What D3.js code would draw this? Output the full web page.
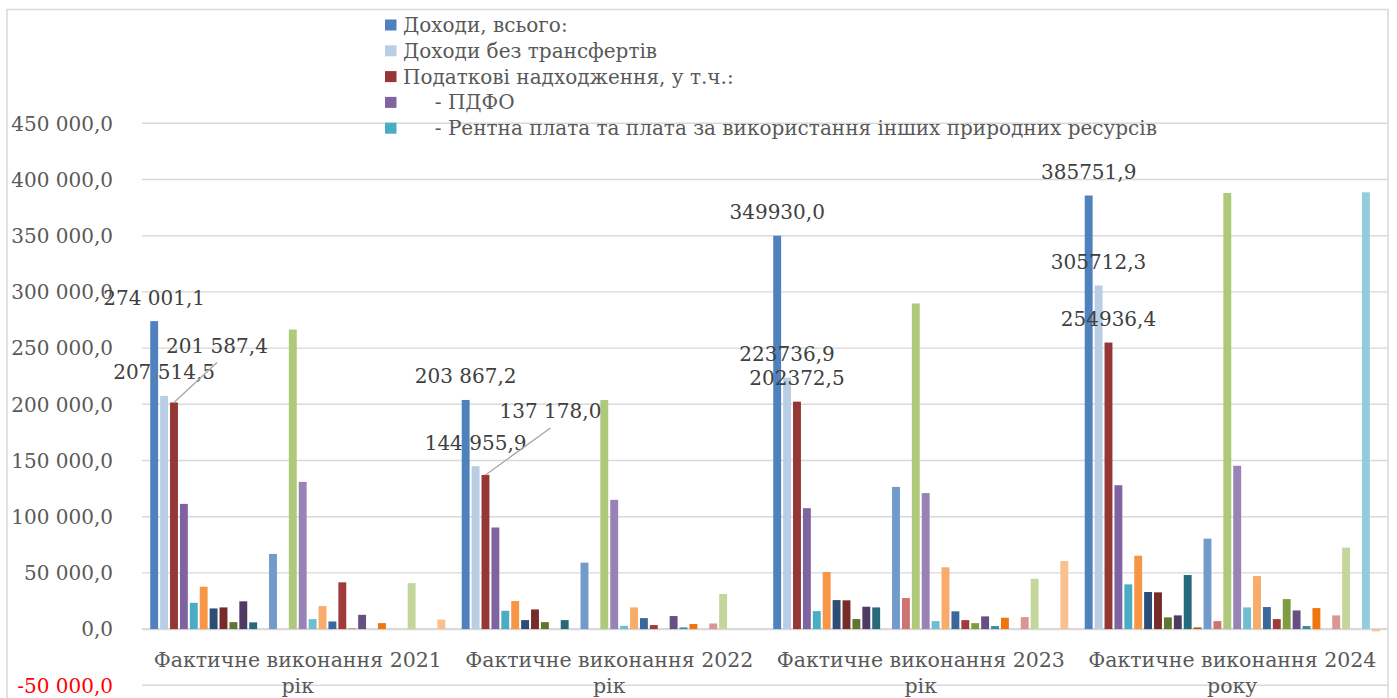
<!DOCTYPE html>
<html>
<head>
<meta charset="utf-8">
<script src="https://cdn.jsdelivr.net/npm/d3@7"></script>
<style>
  body { margin: 0; background: #fff; }
  text { font-family: "DejaVu Serif", serif; }
</style>
</head>
<body>
<script>
// categories (x axis), two-line labels
var categories = ["Фактичне виконання 2021 рік", "Фактичне виконання 2022 рік",
                  "Фактичне виконання 2023 рік", "Фактичне виконання 2024 року"];

// only the first five legend entries are visible in the chart
var legendNames = ["Доходи, всього:", "Доходи без трансфертів", "Податкові надходження, у т.ч.:",
                   "     - ПДФО", "     - Рентна плата та плата за використання інших природних ресурсів"];

// 30 series per category
var v2021 = [274001.1, 207514.5, 201587.4, 111400, 23400, 37700, 18400, 19300, 6200, 24700,
             6000, 0, 66900, 0, 266500, 131000, 8900, 20500, 6800, 41600,
             600, 12700, 0, 5300, 0, 0, 40900, 0, 0, 8500];
var v2022 = [203867.2, 144955.9, 137178.0, 90400, 16300, 25000, 8000, 17500, 6200, 0,
             8000, 0, 59100, 0, 203800, 115000, 2900, 19300, 9800, 3600,
             0, 11600, 1500, 4500, 0, 5000, 31200, 0, 0, 0];
var v2023 = [349930.0, 223736.9, 202372.5, 107600, 16000, 50800, 25800, 25600, 8900, 19900,
             19300, 0, 126500, 27600, 289700, 121000, 7100, 55000, 15800, 8000,
             5300, 11300, 2700, 10100, 0, 10700, 44800, 0, 0, 60600];
var v2024 = [385751.9, 305712.3, 254936.4, 128000, 39800, 65300, 33000, 32700, 10400, 12200,
             48100, 1500, 80500, 7100, 388000, 145300, 19300, 47200, 19600, 8900,
             26700, 16600, 2700, 18700, 0, 12200, 72500, 0, 388600, -2000];
var values = [v2021, v2022, v2023, v2024];

var colors = ["#4F81BD", "#B9CDE5", "#953735", "#8064A2", "#4BACC6", "#F79646",
              "#2C4D75", "#772C2A", "#5F7530", "#4D3B62", "#276A7C", "#B65708",
              "#729ACA", "#CD7371", "#AFC97A", "#9983B5", "#6FBDD1", "#F9AB6B",
              "#3A679C", "#9F3B38", "#7E9D40", "#664F83", "#358EA7", "#EE750F",
              "#95B3D7", "#D99694", "#C3D69B", "#B3A2C7", "#93CDDD", "#FAC090"];

var yTicks = d3.range(-50000, 450001, 50000);

// data labels shown for the first 3 series; grouping of thousands differs by year
var labelGrouped = [true, true, false, false];
// manually moved labels (with leader line): [category, series, dx, dy]
var movedLabels = [[0, 2, 43, -33], [1, 2, 65, -40]];

var W = 1397, H = 698;
var svg = d3.select("body").append("svg").attr("width", W).attr("height", H);

var loc = d3.formatLocale({decimal: ",", thousands: " ", grouping: [3], currency: ["", ""], minus: "-"});
var fmtGroup = loc.format(",.1f"), fmtPlain = loc.format(".1f");

var x0 = d3.scaleBand().domain(categories).range([142, 1388]);
var x1 = d3.scaleBand().domain(d3.range(30)).range([0, x0.bandwidth()]).paddingOuter(0.73);
var y = d3.scaleLinear().domain([-50000, 450000]).range([685.3, 123.3]);

// chart frame
svg.append("rect").attr("x", 7).attr("y", 9.5).attr("width", 1381).attr("height", 720)
  .attr("fill", "none").attr("stroke", "#D9D9D9").attr("stroke-width", 1.5);

// gridlines + tick labels
svg.selectAll(".grid").data(yTicks).enter().append("line")
  .attr("x1", 142).attr("x2", 1388)
  .attr("y1", function(d) { return y(d); }).attr("y2", function(d) { return y(d); })
  .attr("stroke", "#D9D9D9").attr("stroke-width", function(d) { return d === 0 ? 2.2 : 1.4; });

svg.selectAll(".tick").data(yTicks).enter().append("text")
  .attr("x", 113).attr("y", function(d) { return y(d); }).attr("dy", "0.36em")
  .attr("text-anchor", "end").attr("font-size", 20)
  .attr("fill", function(d) { return d < 0 ? "#FF0000" : "#595959"; })
  .text(function(d) { return fmtGroup(d); });

// bars
var groups = svg.selectAll(".cat").data(values).enter().append("g")
  .attr("transform", function(d, i) { return "translate(" + x0(categories[i]) + ",0)"; });

groups.selectAll("rect")
  .data(function(d) { return d.map(function(v, i) { return {v: v, s: i}; }).filter(function(p) { return p.v !== 0; }); })
  .enter().append("rect")
  .attr("x", function(d) { return x1(d.s) + 1; })
  .attr("width", x1.bandwidth() - 2)
  .attr("y", function(d) { return y(Math.max(0, d.v)); })
  .attr("height", function(d) { return Math.abs(y(d.v) - y(0)); })
  .attr("fill", function(d) { return colors[d.s]; });

// data labels
values.forEach(function(vals, c) {
  for (var s = 0; s < 3; s++) {
    var bx = x0(categories[c]) + x1(s) + x1.bandwidth() / 2;
    var by = y(vals[s]);
    var lx = bx, ly = by - 16.5;
    var mv = movedLabels.filter(function(m) { return m[0] === c && m[1] === s; })[0];
    if (mv) {
      lx += mv[2]; ly += mv[3];
      svg.append("line").attr("x1", bx).attr("y1", by).attr("x2", lx).attr("y2", ly + 9.5)
        .attr("stroke", "#A6A6A6").attr("stroke-width", 1.3);
    }
    svg.append("text").attr("x", lx).attr("y", ly).attr("text-anchor", "middle")
      .attr("font-size", 20).attr("fill", "#404040")
      .text(labelGrouped[c] ? fmtGroup(vals[s]) : fmtPlain(vals[s]));
  }
});

// category labels (wrap before the last word)
categories.forEach(function(c) {
  var k = c.lastIndexOf(" ");
  var t = svg.append("text").attr("text-anchor", "middle").attr("font-size", 20.5).attr("fill", "#595959");
  var cx = x0(c) + x0.bandwidth() / 2;
  t.append("tspan").attr("x", cx).attr("y", 667).text(c.slice(0, k));
  t.append("tspan").attr("x", cx).attr("y", 693).text(c.slice(k + 1));
});

// legend
var leg = svg.selectAll(".leg").data(legendNames).enter().append("g")
  .attr("transform", function(d, i) { return "translate(385," + (25 + i * 25.8) + ")"; });
leg.append("rect").attr("x", 0).attr("y", -5.5).attr("width", 11.5).attr("height", 11)
  .attr("fill", function(d, i) { return colors[i]; });
leg.append("text").attr("x", 18).attr("y", 7).attr("font-size", 20).attr("fill", "#595959")
  .style("white-space", "pre").text(function(d) { return d; });
</script>
</body>
</html>
